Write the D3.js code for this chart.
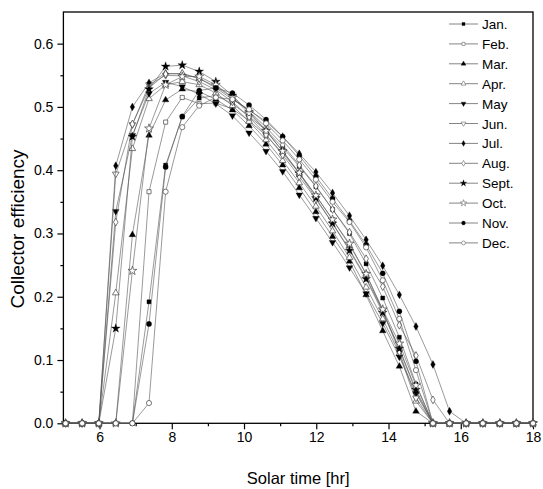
<!DOCTYPE html>
<html>
<head>
<meta charset="utf-8">
<script src="https://cdn.jsdelivr.net/npm/d3@7"></script>
<style>
  body { margin: 0; background: #fff; }
  text { font-family: "Liberation Sans", Arial, sans-serif; }
</style>
</head>
<body>
<div id="chart"></div>
<script>
// solar time of each point [hr]
var hours = [5.06, 5.52, 5.98, 6.45, 6.91, 7.37, 7.83, 8.29, 8.76, 9.22, 9.68, 10.14, 10.61, 11.07,
  11.53, 11.99, 12.45, 12.92, 13.38, 13.84, 14.30, 14.76, 15.23, 15.69, 16.15, 16.61, 17.08, 17.54, 18.00];

var months = ['Jan.', 'Feb.', 'Mar.', 'Apr.', 'May', 'Jun.', 'Jul.', 'Aug.', 'Sept.', 'Oct.', 'Nov.', 'Dec.'];

// collector efficiency, one value per hour above
var jan = [0, 0, 0, 0, 0, 0.192, 0.408, 0.484, 0.514, 0.518, 0.505, 0.485, 0.463, 0.436, 0.406, 0.374, 0.338, 0.300, 0.252, 0.198, 0.136, 0.062, 0, 0, 0, 0, 0, 0, 0];
var feb = [0, 0, 0, 0, 0, 0.366, 0.476, 0.515, 0.505, 0.506, 0.497, 0.478, 0.455, 0.427, 0.395, 0.360, 0.322, 0.282, 0.236, 0.178, 0.118, 0.050, 0, 0, 0, 0, 0, 0, 0];
var mar = [0, 0, 0, 0, 0.298, 0.455, 0.511, 0.528, 0.524, 0.512, 0.495, 0.470, 0.441, 0.408, 0.372, 0.334, 0.295, 0.256, 0.203, 0.146, 0.090, 0.019, 0, 0, 0, 0, 0, 0, 0];
var apr = [0, 0, 0, 0.206, 0.434, 0.513, 0.535, 0.540, 0.535, 0.522, 0.502, 0.477, 0.448, 0.415, 0.380, 0.343, 0.304, 0.262, 0.215, 0.165, 0.110, 0.035, 0, 0, 0, 0, 0, 0, 0];
var may = [0, 0, 0, 0.335, 0.455, 0.521, 0.539, 0.532, 0.520, 0.505, 0.486, 0.459, 0.430, 0.398, 0.361, 0.324, 0.286, 0.246, 0.205, 0.158, 0.105, 0.047, 0, 0, 0, 0, 0, 0, 0];
var jun = [0, 0, 0, 0.394, 0.472, 0.535, 0.550, 0.549, 0.540, 0.527, 0.508, 0.484, 0.456, 0.424, 0.390, 0.354, 0.316, 0.275, 0.230, 0.178, 0.113, 0.040, 0, 0, 0, 0, 0, 0, 0];
var jul = [0, 0, 0, 0.407, 0.500, 0.538, 0.553, 0.552, 0.545, 0.530, 0.512, 0.495, 0.477, 0.453, 0.426, 0.397, 0.364, 0.328, 0.290, 0.249, 0.203, 0.153, 0.093, 0.019, 0, 0, 0, 0, 0];
var aug = [0, 0, 0, 0.318, 0.473, 0.530, 0.552, 0.553, 0.545, 0.532, 0.515, 0.493, 0.468, 0.440, 0.408, 0.375, 0.338, 0.302, 0.260, 0.216, 0.155, 0.107, 0.037, 0, 0, 0, 0, 0, 0];
var sep = [0, 0, 0, 0.150, 0.453, 0.528, 0.564, 0.566, 0.556, 0.540, 0.518, 0.492, 0.463, 0.430, 0.395, 0.356, 0.316, 0.273, 0.228, 0.175, 0.118, 0.053, 0, 0, 0, 0, 0, 0, 0];
var oct = [0, 0, 0, 0, 0.241, 0.466, 0.535, 0.548, 0.548, 0.535, 0.515, 0.490, 0.462, 0.430, 0.396, 0.360, 0.322, 0.284, 0.236, 0.180, 0.126, 0.060, 0, 0, 0, 0, 0, 0, 0];
var nov = [0, 0, 0, 0, 0, 0.157, 0.405, 0.485, 0.526, 0.530, 0.522, 0.503, 0.480, 0.453, 0.423, 0.390, 0.355, 0.320, 0.282, 0.237, 0.177, 0.098, 0, 0, 0, 0, 0, 0, 0];
var dec = [0, 0, 0, 0, 0, 0.032, 0.366, 0.468, 0.502, 0.515, 0.512, 0.496, 0.474, 0.447, 0.417, 0.385, 0.350, 0.318, 0.278, 0.226, 0.165, 0.084, 0, 0, 0, 0, 0, 0, 0];

var xTicks = [6, 8, 10, 12, 14, 16, 18];
var xMinor = [5, 7, 9, 11, 13, 15, 17];
var yTicks = [0, 0.1, 0.2, 0.3, 0.4, 0.5, 0.6];
var yMinor = [0.05, 0.15, 0.25, 0.35, 0.45, 0.55];

var series = [jan, feb, mar, apr, may, jun, jul, aug, sep, oct, nov, dec];

// marker per month: symbol, filled?, rotation
var markers = [
  [d3.symbolSquare, true, 0], [d3.symbolSquare, false, 0],
  [d3.symbolTriangle, true, 0], [d3.symbolTriangle, false, 0],
  [d3.symbolTriangle, true, 180], [d3.symbolTriangle, false, 180],
  [d3.symbolDiamond, true, 0], [d3.symbolDiamond, false, 0],
  [d3.symbolStar, true, 0], [d3.symbolStar, false, 0],
  [d3.symbolCircle, true, 0], [d3.symbolCircle, false, 0]
];
function symSize(t) {
  if (t === d3.symbolSquare) return 17;
  if (t === d3.symbolTriangle) return 19;
  if (t === d3.symbolDiamond) return 18;
  if (t === d3.symbolStar) return 24;
  return 21;
}

var width = 543, height = 489;
var x0 = 63.4, x1 = 533, yTop = 12, yBot = 423.3;

var svg = d3.select('#chart').append('svg')
  .attr('width', width)
  .attr('height', height);

var x = d3.scaleLinear().domain([5, 18]).range([x0, x1]);
var y = d3.scaleLinear().domain([0, 0.65]).range([yBot, yTop]);

// axes
svg.append('g').attr('transform', 'translate(0,' + yBot + ')')
  .call(d3.axisBottom(x).tickValues(xTicks).tickFormat(d3.format('d')).tickSize(6).tickPadding(3));
svg.append('g').attr('transform', 'translate(0,' + yBot + ')')
  .call(d3.axisBottom(x).tickValues(xMinor).tickFormat('').tickSize(3));
svg.append('g').attr('transform', 'translate(' + x0 + ',0)')
  .call(d3.axisLeft(y).tickValues(yTicks).tickFormat(d3.format('.1f')).tickSize(6).tickPadding(4));
svg.append('g').attr('transform', 'translate(' + x0 + ',0)')
  .call(d3.axisLeft(y).tickValues(yMinor).tickFormat('').tickSize(3));

svg.selectAll('.domain').remove();
svg.selectAll('.tick line').attr('stroke', '#000').attr('stroke-width', 1.2);
svg.selectAll('.tick text').attr('font-size', 14).attr('fill', '#000')
  .style('font-family', '"Liberation Sans", Arial, sans-serif');

// frame
svg.append('rect')
  .attr('x', x0).attr('y', yTop)
  .attr('width', x1 - x0).attr('height', yBot - yTop)
  .attr('fill', 'none').attr('stroke', '#000').attr('stroke-width', 1.3);

var line = d3.line()
  .x(function(d, i) { return x(hours[i]); })
  .y(function(d) { return y(d); });

series.forEach(function(vals, m) {
  var mk = markers[m];
  svg.append('path')
    .datum(vals)
    .attr('d', line)
    .attr('fill', 'none')
    .attr('stroke', '#555')
    .attr('stroke-width', 0.6);

  svg.append('g').selectAll('path')
    .data(vals)
    .enter().append('path')
    .attr('d', d3.symbol().type(mk[0]).size(symSize(mk[0])))
    .attr('transform', function(d, i) {
      return 'translate(' + x(hours[i]) + ',' + y(d) + ') rotate(' + mk[2] + ')';
    })
    .attr('fill', mk[1] ? '#000' : '#fff')
    .attr('stroke', mk[1] ? '#000' : '#444')
    .attr('stroke-width', mk[1] ? 0.3 : 0.7);
});

// legend
var legend = svg.append('g');
months.forEach(function(name, m) {
  var mk = markers[m];
  var ly = 24 + m * 19.9;
  legend.append('line')
    .attr('x1', 449).attr('x2', 478).attr('y1', ly).attr('y2', ly)
    .attr('stroke', '#666').attr('stroke-width', 0.8);
  legend.append('path')
    .attr('d', d3.symbol().type(mk[0]).size(symSize(mk[0]) * 0.55))
    .attr('transform', 'translate(463.5,' + ly + ') rotate(' + mk[2] + ')')
    .attr('fill', mk[1] ? '#000' : '#fff')
    .attr('stroke', mk[1] ? '#000' : '#666')
    .attr('stroke-width', mk[1] ? 0.3 : 0.6);
  legend.append('text')
    .attr('x', 482).attr('y', ly + 5)
    .attr('font-size', 13.5)
    .text(name);
});

// axis titles
svg.append('text')
  .attr('x', (x0 + x1) / 2).attr('y', 484)
  .attr('text-anchor', 'middle')
  .attr('font-size', 16.5)
  .text('Solar time [hr]');

svg.append('text')
  .attr('transform', 'translate(23.5,' + 229 + ') rotate(-90)')
  .attr('text-anchor', 'middle')
  .attr('font-size', 19)
  .text('Collector efficiency');
</script>
</body>
</html>
